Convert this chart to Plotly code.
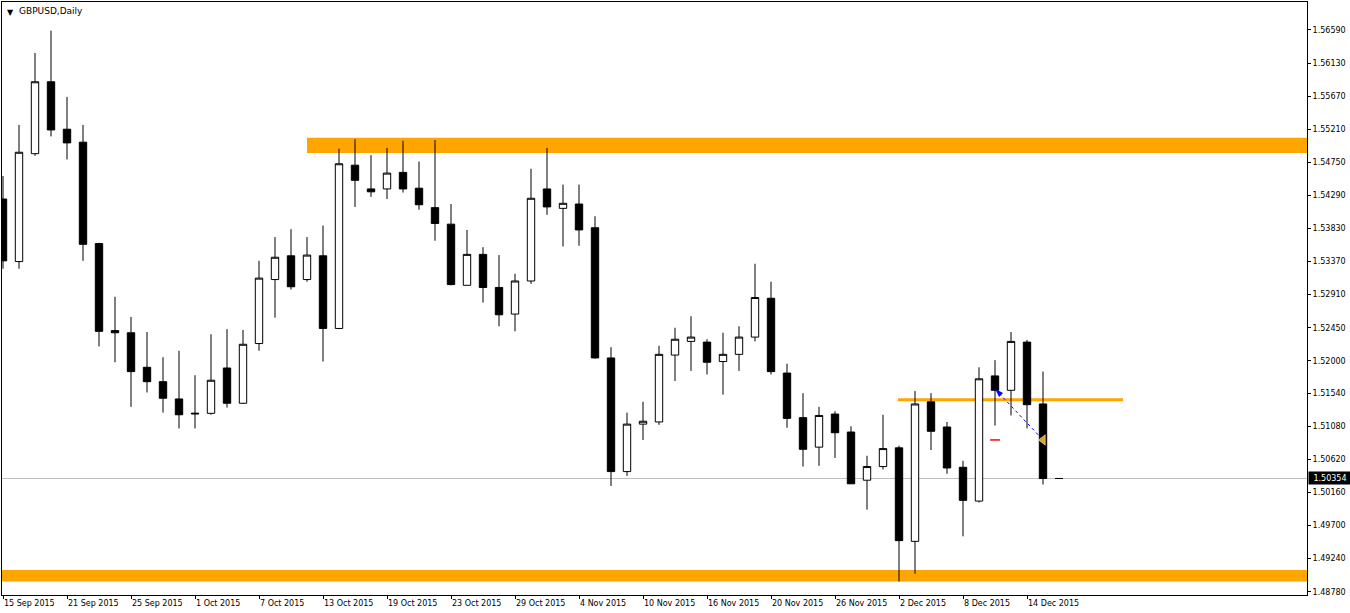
import plotly.graph_objects as go

# ---------------- data ----------------
dates = [
    "2015-09-15", "2015-09-16", "2015-09-17", "2015-09-18",
    "2015-09-21", "2015-09-22", "2015-09-23", "2015-09-24", "2015-09-25",
    "2015-09-28", "2015-09-29", "2015-09-30", "2015-10-01", "2015-10-02",
    "2015-10-05", "2015-10-06", "2015-10-07", "2015-10-08", "2015-10-09",
    "2015-10-12", "2015-10-13", "2015-10-14", "2015-10-15", "2015-10-16",
    "2015-10-19", "2015-10-20", "2015-10-21", "2015-10-22", "2015-10-23",
    "2015-10-26", "2015-10-27", "2015-10-28", "2015-10-29", "2015-10-30",
    "2015-11-02", "2015-11-03", "2015-11-04", "2015-11-05", "2015-11-06",
    "2015-11-09", "2015-11-10", "2015-11-11", "2015-11-12", "2015-11-13",
    "2015-11-16", "2015-11-17", "2015-11-18", "2015-11-19", "2015-11-20",
    "2015-11-23", "2015-11-24", "2015-11-25", "2015-11-26", "2015-11-27",
    "2015-11-30", "2015-12-01", "2015-12-02", "2015-12-03", "2015-12-04",
    "2015-12-07", "2015-12-08", "2015-12-09", "2015-12-10", "2015-12-11",
    "2015-12-14", "2015-12-15", "2015-12-16",
]

open_ = [
    1.5424, 1.5337, 1.5487, 1.5587, 1.5521, 1.5503, 1.5362, 1.5241, 1.5238,
    1.5190, 1.5170, 1.5146, 1.5125, 1.5126, 1.5189, 1.5140, 1.5223, 1.5312,
    1.5345, 1.5312, 1.5345, 1.5244, 1.5471, 1.5438, 1.5438, 1.5461, 1.5439,
    1.5412, 1.5389, 1.5304, 1.5347, 1.5301, 1.5264, 1.5310, 1.5438, 1.5411,
    1.5417, 1.5384, 1.5203, 1.5045, 1.5111, 1.5114, 1.5207, 1.5226, 1.5225,
    1.5198, 1.5208, 1.5232, 1.5286, 1.5182, 1.5120, 1.5079, 1.5125, 1.5100,
    1.5033, 1.5052, 1.5078, 1.4948, 1.5142, 1.5107, 1.5051, 1.5004, 1.5178,
    1.5158, 1.5225, 1.5139, 1.50354,
]
high = [
    1.5456, 1.5527, 1.5627, 1.5658, 1.5566, 1.5527, 1.5363, 1.5288, 1.5260,
    1.5239, 1.5204, 1.5213, 1.5179, 1.5236, 1.5243, 1.5242, 1.5338, 1.5371,
    1.5382, 1.5371, 1.5387, 1.5494, 1.5507, 1.5485, 1.5495, 1.5505, 1.5476,
    1.5506, 1.5417, 1.5381, 1.5357, 1.5346, 1.5320, 1.5466, 1.5495, 1.5444,
    1.5444, 1.5400, 1.5218, 1.5127, 1.5142, 1.5220, 1.5245, 1.5261, 1.5229,
    1.5238, 1.5247, 1.5334, 1.5309, 1.5195, 1.5154, 1.5135, 1.5129, 1.5108,
    1.5067, 1.5124, 1.5081, 1.5157, 1.5154, 1.5114, 1.5060, 1.5190, 1.5200,
    1.5239, 1.5228, 1.5184, 1.50354,
]
low = [
    1.5327, 1.5327, 1.5484, 1.5511, 1.5479, 1.5338, 1.5219, 1.5197, 1.5135,
    1.5155, 1.5127, 1.5105, 1.5105, 1.5124, 1.5134, 1.5139, 1.5213, 1.5259,
    1.5298, 1.5309, 1.5198, 1.5243, 1.5413, 1.5427, 1.5424, 1.5433, 1.5409,
    1.5366, 1.5304, 1.5304, 1.5280, 1.5247, 1.5240, 1.5306, 1.5402, 1.5358,
    1.5359, 1.5202, 1.5025, 1.5039, 1.5089, 1.5110, 1.5171, 1.5185, 1.5180,
    1.5152, 1.5185, 1.5226, 1.5180, 1.5106, 1.5052, 1.5053, 1.5064, 1.5028,
    1.4992, 1.5048, 1.4892, 1.4903, 1.5075, 1.5042, 1.4955, 1.5002, 1.5109,
    1.5123, 1.5105, 1.5027, 1.50354,
]
close = [
    1.5338, 1.5489, 1.5587, 1.5520, 1.5502, 1.5361, 1.5240, 1.5238, 1.5184,
    1.5170, 1.5147, 1.5124, 1.5126, 1.5172, 1.5140, 1.5222, 1.5314, 1.5343,
    1.5302, 1.5346, 1.5244, 1.5473, 1.5450, 1.5434, 1.5460, 1.5438, 1.5416,
    1.5390, 1.5305, 1.5347, 1.5301, 1.5263, 1.5310, 1.5425, 1.5413, 1.5418,
    1.5381, 1.5203, 1.5045, 1.5111, 1.5115, 1.5208, 1.5229, 1.5232, 1.5197,
    1.5208, 1.5232, 1.5287, 1.5184, 1.5119, 1.5076, 1.5123, 1.5099, 1.5028,
    1.5052, 1.5077, 1.4949, 1.5139, 1.5101, 1.5050, 1.5005, 1.5174, 1.5158,
    1.5226, 1.5138, 1.50354, 1.50354,
]

tick_dates = [
    "2015-09-15", "2015-09-21", "2015-09-25", "2015-10-01", "2015-10-07",
    "2015-10-13", "2015-10-19", "2015-10-23", "2015-10-29", "2015-11-04",
    "2015-11-10", "2015-11-16", "2015-11-20", "2015-11-26", "2015-12-02",
    "2015-12-08", "2015-12-14",
]
tick_labels = [
    "15 Sep 2015", "21 Sep 2015", "25 Sep 2015", "1 Oct 2015", "7 Oct 2015",
    "13 Oct 2015", "19 Oct 2015", "23 Oct 2015", "29 Oct 2015", "4 Nov 2015",
    "10 Nov 2015", "16 Nov 2015", "20 Nov 2015", "26 Nov 2015", "2 Dec 2015",
    "8 Dec 2015", "14 Dec 2015",
]

price_ticks = [1.56590, 1.56130, 1.55670, 1.55210, 1.54750, 1.54290, 1.53830,
               1.53370, 1.52910, 1.52450, 1.51990, 1.51540, 1.51080, 1.50620,
               1.50160, 1.49700, 1.49240, 1.48780]
price_labels = ["1.56590", "1.56130", "1.55670", "1.55210", "1.54750", "1.54290",
                "1.53830", "1.53370", "1.52910", "1.52450", "1.52000", "1.51540",
                "1.51080", "1.50620", "1.50160", "1.49700", "1.49240", "1.48780"]

current_price = 1.50354
resistance_band = [1.5488, 1.5509]     # upper zone
support_band = [1.4892, 1.4908]        # lower zone
mid_level = 1.5145                     # short level line

trade_x = ["2015-12-10", "2015-12-15"]
trade_y = [1.5160, 1.5089]
stop_x = ["2015-12-10"]
stop_y = [1.5089]

# ---------------- layout constants ----------------
X_RANGE = [-0.0625, 81.5]
Y_RANGE = [1.48734, 1.56979]
ORANGE = "#FFA500"
FONT = "DejaVu Sans"

fig = go.Figure()

fig.add_trace(go.Candlestick(
    x=dates, open=open_, high=high, low=low, close=close,
    increasing=dict(line=dict(color="black", width=1), fillcolor="white"),
    decreasing=dict(line=dict(color="black", width=1), fillcolor="black"),
    whiskerwidth=0, showlegend=False, hoverinfo="x+y",
))

# trade line and markers
fig.add_trace(go.Scatter(
    x=trade_x, y=trade_y, mode="lines",
    line=dict(color="#0000FF", width=1, dash="dot"),
    showlegend=False, hoverinfo="skip",
))
fig.add_trace(go.Scatter(
    x=trade_x[:1], y=trade_y[:1], mode="markers",
    marker=dict(symbol="arrow", angle=-45, size=9, color="#0000FF"),
    showlegend=False, hoverinfo="skip",
))
fig.add_trace(go.Scatter(
    x=stop_x, y=stop_y, mode="markers",
    marker=dict(symbol="line-ew", size=7, line=dict(color="#FF0000", width=1.5)),
    showlegend=False, hoverinfo="skip",
))
fig.add_trace(go.Scatter(
    x=trade_x[1:], y=trade_y[1:], mode="markers",
    marker=dict(symbol="triangle-left", size=9, color="#DAA520",
                line=dict(color="white", width=0.5)),
    showlegend=False, hoverinfo="skip",
))

shapes = [
    # upper resistance band
    dict(type="rect", xref="x", yref="y", x0=19, x1=X_RANGE[1],
         y0=resistance_band[0], y1=resistance_band[1],
         fillcolor=ORANGE, line=dict(width=0), layer="below"),
    # lower support band
    dict(type="rect", xref="x", yref="y", x0=X_RANGE[0], x1=X_RANGE[1],
         y0=support_band[0], y1=support_band[1],
         fillcolor=ORANGE, line=dict(width=0), layer="below"),
    # middle level line
    dict(type="line", xref="x", yref="y", x0=55.94, x1=70,
         y0=mid_level, y1=mid_level, line=dict(color=ORANGE, width=3), layer="below"),
    # current price line
    dict(type="line", xref="paper", yref="y", x0=0, x1=1,
         y0=current_price, y1=current_price,
         line=dict(color="#C0C0C0", width=1), layer="below"),
]

annotations = [
    dict(xref="paper", yref="paper", x=0, y=1, xanchor="left", yanchor="top",
         xshift=3, yshift=-4, text="▼", showarrow=False,
         font=dict(family=FONT, size=8, color="black")),
    dict(xref="paper", yref="paper", x=0, y=1, xanchor="left", yanchor="top",
         xshift=15, yshift=-2, text="GBPUSD,Daily", showarrow=False,
         font=dict(family=FONT, size=9, color="black")),
    dict(xref="paper", yref="y", x=1, y=current_price, xanchor="left", yanchor="middle",
         xshift=1, text=f"{current_price:.5f}", showarrow=False,
         bgcolor="black", borderpad=1, width=40, height=10, align="center",
         font=dict(family=FONT, size=8, color="white")),
]

fig.update_layout(
    width=1350, height=613,
    margin=dict(l=2, r=43, t=2, b=18),
    paper_bgcolor="white", plot_bgcolor="white",
    boxgap=0.34,
    showlegend=False,
    shapes=shapes, annotations=annotations,
    xaxis=dict(
        type="category", range=X_RANGE, rangeslider=dict(visible=False),
        tickmode="array", tickvals=tick_dates, ticktext=tick_labels,
        ticks="outside", ticklen=3, tickcolor="black", tickwidth=1,
        ticklabelposition="outside right",
        showgrid=False, zeroline=False,
        showline=True, linecolor="black", linewidth=1, mirror=True,
        tickfont=dict(family=FONT, size=8, color="black"),
    ),
    yaxis=dict(
        side="right", range=Y_RANGE,
        tickmode="array", tickvals=price_ticks, ticktext=price_labels,
        ticks="outside", ticklen=3, tickcolor="black", tickwidth=1,
        showgrid=False, zeroline=False,
        showline=True, linecolor="black", linewidth=1, mirror=True,
        tickfont=dict(family=FONT, size=8, color="black"),
    ),
)

fig.write_html("out.html")
